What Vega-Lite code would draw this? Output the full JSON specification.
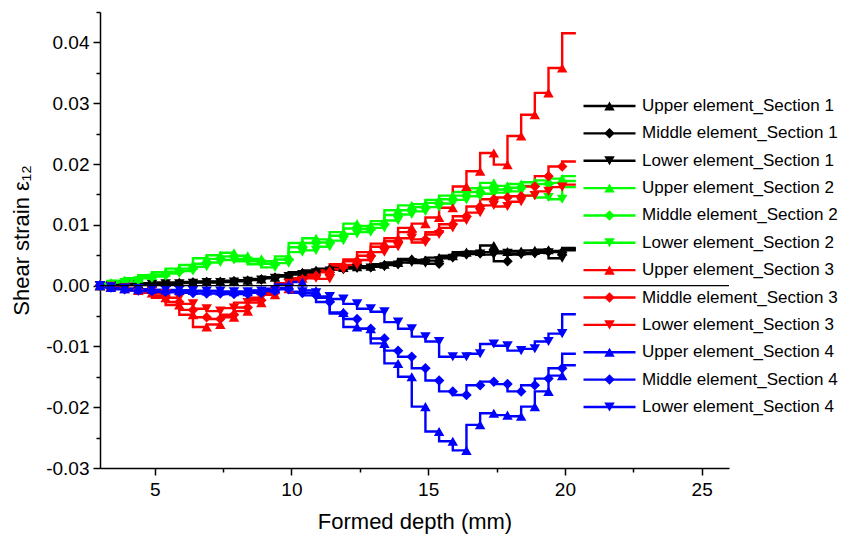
{
  "$schema": "https://vega.github.io/schema/vega-lite/v6.json",
  "width": 629,
  "height": 456,
  "autosize": {"type": "none"},
  "padding": {"left": 100, "top": 12, "right": 130, "bottom": 78},
  "background": "white",
  "config": {
    "font": "Liberation Sans",
    "view": {"stroke": null},
    "axis": {"grid": false, "domainColor": "black", "domainWidth": 1.5, "tickColor": "black", "tickWidth": 1.5, "labelColor": "black", "titleColor": "black", "labelFontSize": 19, "titleFontSize": 22, "titleFontWeight": "normal"}
  },
  "data": {"values": [
    {"x":3.0,"U1":0,"M1":0,"L1":0,"U2":0,"M2":0,"L2":0,"U3":0,"M3":0,"L3":0,"U4":0,"M4":0,"L4":0},
    {"x":3.4,"U1":0.0001,"M1":0,"L1":0,"U2":0.0004,"M2":0.0003,"L2":0.0002,"U3":-0.0002,"M3":-0.0002,"L3":-0.0001,"U4":-0.0003,"M4":-0.0003,"L4":-0.0002},
    {"x":3.9,"U1":0.0002,"M1":0.0001,"L1":0.0001,"U2":0.0008,"M2":0.0007,"L2":0.0005,"U3":-0.0005,"M3":-0.0004,"L3":-0.0003,"U4":-0.0005,"M4":-0.0006,"L4":-0.0004},
    {"x":4.4,"U1":0.0003,"M1":0.0002,"L1":0.0001,"U2":0.0012,"M2":0.001,"L2":0.0008,"U3":-0.0008,"M3":-0.0007,"L3":-0.0005,"U4":-0.0006,"M4":-0.0008,"L4":-0.0005},
    {"x":4.9,"U1":0.0004,"M1":0.0003,"L1":0.0002,"U2":0.0017,"M2":0.0014,"L2":0.0012,"U3":-0.0012,"M3":-0.001,"L3":-0.0008,"U4":-0.0006,"M4":-0.0009,"L4":-0.0006},
    {"x":5.4,"U1":0.0005,"M1":0.0003,"L1":0.0003,"U2":0.0022,"M2":0.0018,"L2":0.0015,"U3":-0.002,"M3":-0.0017,"L3":-0.0013,"U4":-0.0007,"M4":-0.001,"L4":-0.0007},
    {"x":5.9,"U1":0.0005,"M1":0.0004,"L1":0.0003,"U2":0.0028,"M2":0.0023,"L2":0.002,"U3":-0.0032,"M3":-0.0027,"L3":-0.002,"U4":-0.0008,"M4":-0.0011,"L4":-0.0007},
    {"x":6.4,"U1":0.0006,"M1":0.0005,"L1":0.0004,"U2":0.0034,"M2":0.0028,"L2":0.0024,"U3":-0.0048,"M3":-0.004,"L3":-0.003,"U4":-0.0008,"M4":-0.0012,"L4":-0.0008},
    {"x":6.9,"U1":0.0007,"M1":0.0006,"L1":0.0005,"U2":0.0045,"M2":0.0036,"L2":0.0031,"U3":-0.0068,"M3":-0.0052,"L3":-0.0038,"U4":-0.0009,"M4":-0.0013,"L4":-0.0009},
    {"x":7.4,"U1":0.0007,"M1":0.0006,"L1":0.0005,"U2":0.005,"M2":0.0044,"L2":0.0038,"U3":-0.0064,"M3":-0.0055,"L3":-0.0042,"U4":-0.0009,"M4":-0.0013,"L4":-0.0009},
    {"x":7.9,"U1":0.0008,"M1":0.0007,"L1":0.0006,"U2":0.0054,"M2":0.0048,"L2":0.0042,"U3":-0.0052,"M3":-0.0048,"L3":-0.0037,"U4":-0.001,"M4":-0.0014,"L4":-0.001},
    {"x":8.4,"U1":0.0009,"M1":0.0008,"L1":0.0007,"U2":0.0049,"M2":0.0044,"L2":0.004,"U3":-0.0042,"M3":-0.0036,"L3":-0.0028,"U4":-0.001,"M4":-0.0014,"L4":-0.001},
    {"x":8.9,"U1":0.0011,"M1":0.001,"L1":0.0009,"U2":0.0044,"M2":0.004,"L2":0.0035,"U3":-0.0028,"M3":-0.0024,"L3":-0.002,"U4":-0.0008,"M4":-0.0012,"L4":-0.0009},
    {"x":9.4,"U1":0.0014,"M1":0.0013,"L1":0.0012,"U2":0.004,"M2":0.0036,"L2":0.003,"U3":-0.0015,"M3":-0.0012,"L3":-0.001,"U4":-0.0005,"M4":-0.0009,"L4":-0.0007},
    {"x":9.9,"U1":0.0017,"M1":0.0016,"L1":0.0015,"U2":0.0048,"M2":0.0043,"L2":0.0037,"U3":-0.0005,"M3":0.0002,"L3":0.0004,"U4":0.0002,"M4":-0.0006,"L4":-0.0004},
    {"x":10.4,"U1":0.0022,"M1":0.002,"L1":0.0018,"U2":0.007,"M2":0.0063,"L2":0.0055,"U3":0.0012,"M3":0.001,"L3":0.0008,"U4":0.0006,"M4":-0.0012,"L4":-0.001},
    {"x":10.9,"U1":0.0025,"M1":0.0023,"L1":0.0021,"U2":0.0078,"M2":0.007,"L2":0.0058,"U3":0.0018,"M3":0.0016,"L3":0.0012,"U4":-0.0008,"M4":-0.0016,"L4":-0.0012},
    {"x":11.4,"U1":0.0028,"M1":0.0026,"L1":0.0024,"U2":0.0076,"M2":0.0071,"L2":0.0064,"U3":0.0025,"M3":0.0022,"L3":0.0011,"U4":-0.002,"M4":-0.0027,"L4":-0.0018},
    {"x":11.9,"U1":0.003,"M1":0.0028,"L1":0.0026,"U2":0.0088,"M2":0.0082,"L2":0.0074,"U3":0.0035,"M3":0.0032,"L3":0.0027,"U4":-0.0044,"M4":-0.0046,"L4":-0.0022},
    {"x":12.4,"U1":0.0031,"M1":0.003,"L1":0.0028,"U2":0.0102,"M2":0.0094,"L2":0.0085,"U3":0.0043,"M3":0.004,"L3":0.0034,"U4":-0.0068,"M4":-0.0055,"L4":-0.003},
    {"x":12.9,"U1":0.0032,"M1":0.003,"L1":0.0029,"U2":0.0098,"M2":0.0093,"L2":0.0088,"U3":0.0055,"M3":0.0049,"L3":0.0042,"U4":-0.0071,"M4":-0.0071,"L4":-0.0038},
    {"x":13.4,"U1":0.0035,"M1":0.0033,"L1":0.0031,"U2":0.0106,"M2":0.0101,"L2":0.0095,"U3":0.0069,"M3":0.0064,"L3":0.0055,"U4":-0.0095,"M4":-0.0087,"L4":-0.0043},
    {"x":13.9,"U1":0.0038,"M1":0.0036,"L1":0.0034,"U2":0.0124,"M2":0.0116,"L2":0.0107,"U3":0.0078,"M3":0.0073,"L3":0.0064,"U4":-0.0128,"M4":-0.0107,"L4":-0.006},
    {"x":14.4,"U1":0.0044,"M1":0.0042,"L1":0.0038,"U2":0.0132,"M2":0.0124,"L2":0.0117,"U3":0.0095,"M3":0.0088,"L3":0.0078,"U4":-0.015,"M4":-0.0117,"L4":-0.0071},
    {"x":14.9,"U1":0.0042,"M1":0.004,"L1":0.0037,"U2":0.0134,"M2":0.0129,"L2":0.0122,"U3":0.0102,"M3":0.0076,"L3":0.0071,"U4":-0.0199,"M4":-0.0136,"L4":-0.0084},
    {"x":15.4,"U1":0.0046,"M1":0.0036,"L1":0.0041,"U2":0.0141,"M2":0.0136,"L2":0.0129,"U3":0.0112,"M3":0.0088,"L3":0.0084,"U4":-0.024,"M4":-0.0156,"L4":-0.0092},
    {"x":15.9,"U1":0.0049,"M1":0.0047,"L1":0.0045,"U2":0.0148,"M2":0.0142,"L2":0.0135,"U3":0.0128,"M3":0.0101,"L3":0.0095,"U4":-0.0256,"M4":-0.0174,"L4":-0.0117},
    {"x":16.4,"U1":0.0055,"M1":0.0052,"L1":0.005,"U2":0.0154,"M2":0.0148,"L2":0.0141,"U3":0.0163,"M3":0.0114,"L3":0.0107,"U4":-0.0271,"M4":-0.018,"L4":-0.0117},
    {"x":16.9,"U1":0.0056,"M1":0.0053,"L1":0.0052,"U2":0.016,"M2":0.0154,"L2":0.0147,"U3":0.0188,"M3":0.013,"L3":0.012,"U4":-0.0229,"M4":-0.0164,"L4":-0.0112},
    {"x":17.4,"U1":0.0066,"M1":0.0055,"L1":0.0051,"U2":0.0169,"M2":0.0161,"L2":0.0151,"U3":0.0218,"M3":0.0142,"L3":0.0132,"U4":-0.021,"M4":-0.0158,"L4":-0.0096},
    {"x":17.9,"U1":0.0056,"M1":0.004,"L1":0.0053,"U2":0.0164,"M2":0.0158,"L2":0.0153,"U3":0.0199,"M3":0.0145,"L3":0.013,"U4":-0.0213,"M4":-0.0162,"L4":-0.0099},
    {"x":18.4,"U1":0.0057,"M1":0.0053,"L1":0.0051,"U2":0.0167,"M2":0.0161,"L2":0.0155,"U3":0.0246,"M3":0.0147,"L3":0.0138,"U4":-0.0215,"M4":-0.0174,"L4":-0.0107},
    {"x":18.9,"U1":0.0058,"M1":0.0054,"L1":0.0052,"U2":0.017,"M2":0.0164,"L2":0.0148,"U3":0.0281,"M3":0.0163,"L3":0.0148,"U4":-0.0199,"M4":-0.0164,"L4":-0.0104},
    {"x":19.4,"U1":0.0059,"M1":0.0056,"L1":0.0054,"U2":0.0173,"M2":0.0167,"L2":0.0145,"U3":0.0317,"M3":0.018,"L3":0.0155,"U4":-0.0174,"M4":-0.0153,"L4":-0.0092},
    {"x":19.9,"U1":0.0057,"M1":0.0055,"L1":0.0045,"U2":0.0176,"M2":0.0169,"L2":0.0142,"U3":0.0358,"M3":0.0196,"L3":0.0162,"U4":-0.0148,"M4":-0.0136,"L4":-0.0079},
    {"x":20.4,"U1":0.0062,"M1":0.006,"L1":0.0058,"U2":0.018,"M2":0.0172,"L2":0.0162,"U3":0.0415,"M3":0.0204,"L3":0.0166,"U4":-0.0131,"M4":-0.0112,"L4":-0.0047}
  ]},
  "transform": [
    {"fold": ["U1","M1","L1","U2","M2","L2","U3","M3","L3","U4","M4","L4"], "as": ["series","strain"]}
  ],
  "layer": [
    {
      "mark": {"type": "line", "interpolate": "step-before", "strokeWidth": 2.4},
      "encoding": {
        "x": {"field": "x", "type": "quantitative", "scale": {"domain": [3, 26], "nice": false, "zero": false},
              "axis": {"orient": "bottom", "values": [5,10,15,20,25], "title": "Formed depth (mm)", "tickSize": 7, "labelPadding": 5, "titlePadding": 12}},
        "y": {"field": "strain", "type": "quantitative", "scale": {"domain": [-0.03, 0.045], "nice": false, "zero": false},
              "axis": {"orient": "left", "values": [-0.03,-0.02,-0.01,0,0.01,0.02,0.03,0.04], "title": "Shear strain ε₁₂", "tickSize": 7, "labelPadding": 4, "titlePadding": 12,
                       "labelExpr": "datum.value < 0 ? '-' + format(-datum.value, '.2f') : format(datum.value, '.2f')"}},
        "color": {"field": "series", "type": "nominal",
                  "scale": {"domain": ["U1","M1","L1","U2","M2","L2","U3","M3","L3","U4","M4","L4"],
                            "range": ["#000000","#000000","#000000","#00ff00","#00ff00","#00ff00","#ff0000","#ff0000","#ff0000","#0000ff","#0000ff","#0000ff"]},
                  "legend": {
                    "orient": "none", "legendX": 482, "legendY": 83, "title": null, "padding": 0,
                    "symbolType": "stroke", "symbolSize": 2704, "symbolStrokeWidth": 2.4, "symbolOffset": 0, "clipHeight": 22, "rowPadding": 5.36,
                    "labelFontSize": 17, "labelColor": "black", "labelOffset": 5, "labelLimit": 300,
                    "labelExpr": "(datum.label[0] == 'U' ? 'Upper' : datum.label[0] == 'M' ? 'Middle' : 'Lower') + ' element_Section ' + datum.label[1]"
                  }},
        "detail": {"field": "series"}
      }
    },
    {
      "transform": [{"filter": "datum.x < 20.2"}],
      "mark": {"type": "point", "filled": true, "opacity": 1, "size": 110},
      "encoding": {
        "x": {"field": "x", "type": "quantitative",
              "axis": {"orient": "bottom", "values": [7.5,12.5,17.5,22.5], "labels": false, "domain": false, "title": null, "tickSize": 4}},
        "y": {"field": "strain", "type": "quantitative",
              "axis": {"orient": "left", "values": [-0.025,-0.015,-0.005,0.005,0.015,0.025,0.035,0.045], "labels": false, "domain": false, "title": null, "tickSize": 4}},
        "shape": {"field": "series", "type": "nominal",
                  "scale": {"domain": ["U1","M1","L1","U2","M2","L2","U3","M3","L3","U4","M4","L4"],
                            "range": ["triangle-up","diamond","triangle-down","triangle-up","diamond","triangle-down","triangle-up","diamond","triangle-down","triangle-up","diamond","triangle-down"]},
                  "legend": {"orient": "none", "legendX": 501, "legendY": 83, "title": null, "padding": 0,
                             "symbolSize": 110, "symbolStrokeWidth": 0, "symbolOffset": 0, "clipHeight": 22, "rowPadding": 5.36,
                             "labelFontSize": 17, "labelExpr": "''"}},
        "color": {"field": "series", "type": "nominal",
                  "legend": {"orient": "none", "legendX": 501, "legendY": 83, "title": null, "padding": 0,
                             "symbolSize": 110, "symbolStrokeWidth": 0, "symbolOffset": 0, "clipHeight": 22, "rowPadding": 5.36,
                             "labelFontSize": 17, "labelExpr": "''"}}
      }
    },
    {
      "data": {"values": [{"level": 0}]},
      "mark": {"type": "rule", "color": "black", "strokeWidth": 1.3},
      "encoding": {"y": {"field": "level", "type": "quantitative", "axis": null}}
    }
  ],
  "resolve": {"axis": {"x": "independent", "y": "independent"}, "legend": {"color": "independent", "shape": "independent"}}
}
